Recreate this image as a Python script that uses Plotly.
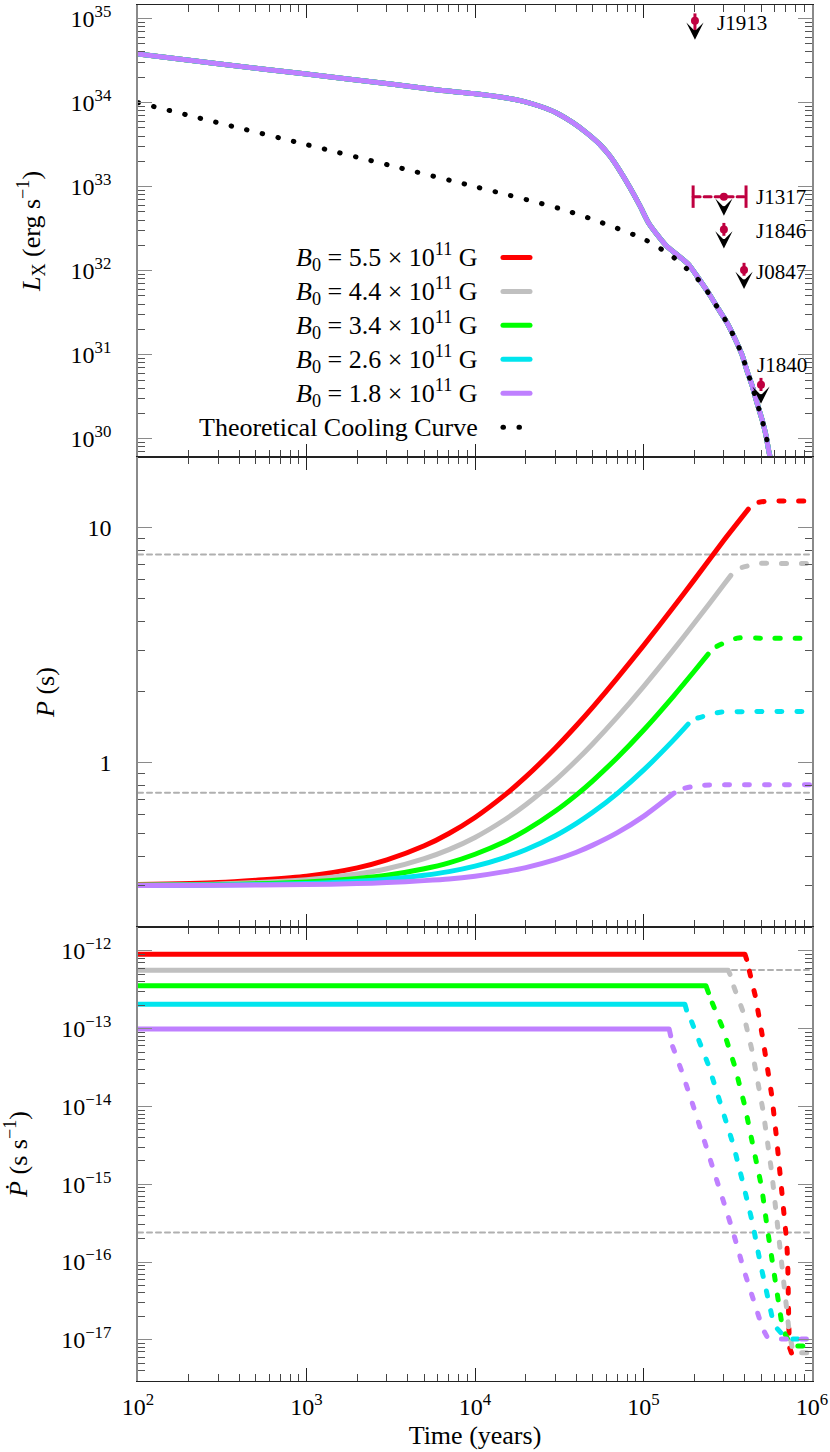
import math
import plotly.graph_objects as go
from plotly.subplots import make_subplots

# initial field strengths (x 10^11 G) and line colours
B0_VALUES = ["5.5", "4.4", "3.4", "2.6", "1.8"]
COLORS = ["#ff0000", "#c0c0c0", "#00ff00", "#00e5ee", "#bf80ff"]
CRIMSON = "#bf0040"

# ---- top panel: X-ray luminosity (the five models overlap) ----
LX_AGE = [1e2, 3.16e2, 1e3, 3.16e3, 6.19e3, 9.77e3, 1.54e4, 1.94e4, 2.43e4, 3.05e4,
          3.83e4, 4.6e4, 5.52e4, 6.32e4, 7.26e4, 8.32e4, 9.53e4, 1.07e5, 1.2e5,
          1.37e5, 1.57e5, 1.85e5, 2.14e5, 2.48e5, 2.75e5, 3.13e5, 3.49e5, 3.84e5,
          4.11e5, 4.41e5, 4.71e5, 5.05e5, 5.33e5, 5.56e5, 5.8e5]
LX_MODEL = [3.78e34, 2.85e34, 2.19e34, 1.66e34, 1.40e34, 1.28e34, 1.135e34, 1.035e34,
            9.04e33, 7.53e33, 5.73e33, 4.36e33, 3.16e33, 2.31e33, 1.53e33, 9.7e32,
            5.89e32, 3.72e32, 2.71e32, 1.97e32, 1.57e32, 1.19e32, 7.9e31, 5.1e31,
            3.63e31, 2.4e31, 1.55e31, 1.0e31, 6.5e30, 4.3e30, 2.7e30, 1.7e30,
            1.1e30, 6.9e29, 4.8e29]

COOL_AGE = [1e2, 3.16e2, 1e3, 3.16e3, 1e4, 3.16e4, 5.45e4, 1.02e5, 1.5e5, 1.81e5,
            2.14e5, 2.48e5, 2.75e5, 3.13e5, 3.49e5, 3.84e5, 4.11e5, 4.41e5, 4.71e5,
            5.05e5, 5.33e5, 5.56e5]
COOL_LX = [1.0e34, 5.6e33, 3.16e33, 1.78e33, 1.0e33, 5.5e32, 3.83e32, 2.34e32,
           1.45e32, 1.05e32, 7.6e31, 5.1e31, 3.63e31, 2.4e31, 1.55e31, 1.0e31,
           6.5e30, 4.3e30, 2.7e30, 1.7e30, 1.1e30, 6.9e29]

# observed sources (upper limits)
SRC_NAMES = ["J1913", "J1317", "J1846", "J0847", "J1840"]
SRC_AGE = [2.02e5, 3.0e5, 3.0e5, 3.95e5, 4.98e5]
SRC_AGE_LO = [2.02e5, 1.97e5, 3.0e5, 3.95e5, 4.98e5]
SRC_AGE_HI = [2.02e5, 4.06e5, 3.0e5, 3.95e5, 4.98e5]
SRC_LX = [9.4e34, 7.6e32, 3.1e32, 1.02e32, 4.4e30]
SRC_LX_UP = [2.1e34, 0.0, 0.6e32, 0.22e32, 0.9e30]
SRC_LX_DN = [2.4e34, 0.0, 0.5e32, 0.15e32, 0.7e30]

# ---- middle panel: spin period ----
P_AGE_EARLY = [1e2, 3e2, 1e3, 2e3, 3e3, 5e3, 7e3, 1e4, 1.5e4, 2e4, 3e4, 4e4, 5e4,
               7e4, 1e5]
P_AGE_TAIL = [
    [1.5e5, 2e5, 3e5, 4.19e5],
    [1.5e5, 2e5, 3e5, 3.3e5],
    [1.5e5, 2e5, 2.42e5],
    [1.5e5, 1.84e5],
    [1.52e5],
]
P_VAL = [
    [0.303, 0.309, 0.329, 0.357, 0.386, 0.443, 0.50, 0.585, 0.728, 0.87, 1.155, 1.44,
     1.725, 2.295, 3.15, 4.575, 6.0, 8.85, 12.0],
    [0.302, 0.305, 0.318, 0.336, 0.354, 0.391, 0.427, 0.481, 0.572, 0.662, 0.843,
     1.024, 1.205, 1.567, 2.11, 3.015, 3.92, 5.73, 6.27],
    [0.301, 0.303, 0.311, 0.322, 0.332, 0.354, 0.375, 0.408, 0.461, 0.515, 0.623,
     0.73, 0.838, 1.053, 1.375, 1.913, 2.45, 2.90],
    [0.3006, 0.302, 0.306, 0.313, 0.319, 0.332, 0.344, 0.363, 0.395, 0.426, 0.489,
     0.552, 0.615, 0.741, 0.93, 1.245, 1.46],
    [0.3003, 0.301, 0.303, 0.306, 0.309, 0.315, 0.320, 0.329, 0.344, 0.358, 0.387,
     0.416, 0.446, 0.504, 0.591, 0.743],
]
P_AGE_LATE = [
    [4.84e5, 5.6e5, 7e5, 1e6],
    [3.85e5, 4.9e5, 6e5, 1e6],
    [2.73e5, 3.6e5, 5e5, 1e6],
    [2.1e5, 2.85e5, 4e5, 1e6],
    [1.76e5, 2.16e5, 3e5, 1e6],
]
P_VAL_LATE = [
    [12.85, 13.0, 13.0, 13.0],
    [6.78, 7.05, 7.05, 7.05],
    [3.13, 3.39, 3.39, 3.39],
    [1.55, 1.64, 1.65, 1.65],
    [0.78, 0.80, 0.805, 0.805],
]
P_OBS = [7.7, 0.745]

# ---- bottom panel: period derivative ----
PD_AGE = [
    [1e2, 4.0e5, 4.09e5],
    [1e2, 3.18e5, 3.26e5],
    [1e2, 2.35e5, 2.43e5],
    [1e2, 1.76e5, 1.80e5],
    [1e2, 1.42e5, 1.45e5],
]
PD_VAL = [
    [9.07e-13, 9.07e-13, 7.8e-13],
    [5.65e-13, 5.65e-13, 5.0e-13],
    [3.56e-13, 3.56e-13, 2.9e-13],
    [2.07e-13, 2.07e-13, 1.74e-13],
    [9.9e-14, 9.9e-14, 8.1e-14],
]
PD_AGE_LATE = [
    [4.25e5, 4.62e5, 5.09e5, 5.33e5, 5.79e5, 6.17e5, 6.55e5, 6.76e5, 7.08e5, 7.18e5,
     7.25e5, 7.28e5, 7.35e5, 7.7e5, 8.7e5],
    [3.44e5, 3.88e5, 4.41e5, 5.14e5, 5.77e5, 6.34e5, 6.89e5, 7.33e5, 7.74e5, 1e6],
    [2.56e5, 2.94e5, 3.49e5, 4.0e5, 4.48e5, 5.03e5, 5.43e5, 5.89e5, 6.34e5, 6.70e5,
     7.57e5, 1e6],
    [1.93e5, 2.18e5, 2.43e5, 2.87e5, 3.41e5, 3.91e5, 4.45e5, 4.95e5, 5.58e5, 5.94e5,
     7.08e5, 1e6],
    [1.49e5, 1.69e5, 2.02e5, 2.41e5, 2.87e5, 3.38e5, 3.95e5, 4.66e5, 5.09e5, 5.4e5,
     6.17e5, 1e6],
]
PD_VAL_LATE = [
    [5.5e-13, 2.57e-13, 7.8e-14, 4.27e-14, 1.32e-14, 3.8e-15, 1.12e-15, 6.0e-16,
     1.82e-16, 9.8e-17, 5.4e-17, 1.62e-17, 8.0e-18, 6.0e-18, 5.9e-18],
    [3.45e-13, 1.70e-13, 5.2e-14, 8.5e-15, 1.41e-15, 2.29e-16, 3.72e-17, 1.23e-17,
     6.8e-18, 6.8e-18],
    [2.14e-13, 1.04e-13, 3.24e-14, 1.0e-14, 3.0e-15, 9.1e-16, 2.7e-16, 7.9e-17,
     2.45e-17, 1.35e-17, 8.3e-18, 8.3e-18],
    [1.23e-13, 5.9e-14, 3.4e-14, 1.07e-14, 3.24e-15, 1.0e-15, 3.1e-16, 9.3e-17,
     2.8e-17, 1.55e-17, 1.02e-17, 1.02e-17],
    [5.9e-14, 2.8e-14, 8.7e-15, 2.7e-15, 8.2e-16, 2.55e-16, 7.8e-17, 2.44e-17,
     1.40e-17, 1.1e-17, 1.02e-17, 1.02e-17],
]
PD_OBS = [5.7e-13, 2.4e-16]
AGE_SPAN = [1e2, 1e6]

FONT = "Liberation Serif"
SOLID_W = 5
DASH = "5px,15px"
REF_LINE = dict(color="#b0b0b0", width=2, dash="5px,4px")

fig = make_subplots(rows=3, cols=1, shared_xaxes=True, vertical_spacing=0,
                    row_heights=[453, 471, 455])

# reference levels (behind the models)
for v in P_OBS:
    fig.add_trace(go.Scatter(x=AGE_SPAN, y=[v, v], mode="lines", line=REF_LINE,
                             hoverinfo="skip"), row=2, col=1)
for v in PD_OBS:
    fig.add_trace(go.Scatter(x=AGE_SPAN, y=[v, v], mode="lines", line=REF_LINE,
                             hoverinfo="skip"), row=3, col=1)

for i, col in enumerate(COLORS):
    fig.add_trace(go.Scatter(x=LX_AGE, y=LX_MODEL, mode="lines",
                             line=dict(color=col, width=SOLID_W, shape="spline",
                                       smoothing=0.6)), row=1, col=1)
    fig.add_trace(go.Scatter(x=P_AGE_EARLY + P_AGE_TAIL[i], y=P_VAL[i], mode="lines",
                             line=dict(color=col, width=SOLID_W, shape="spline",
                                       smoothing=0.6)), row=2, col=1)
    fig.add_trace(go.Scatter(x=P_AGE_LATE[i], y=P_VAL_LATE[i], mode="lines",
                             line=dict(color=col, width=SOLID_W, dash=DASH,
                                       shape="spline", smoothing=0.8)), row=2, col=1)
    fig.add_trace(go.Scatter(x=PD_AGE[i], y=PD_VAL[i], mode="lines",
                             line=dict(color=col, width=SOLID_W)), row=3, col=1)
    fig.add_trace(go.Scatter(x=PD_AGE_LATE[i], y=PD_VAL_LATE[i], mode="lines",
                             line=dict(color=col, width=SOLID_W, dash=DASH)),
                  row=3, col=1)

# theoretical cooling curve (dotted)
fig.add_trace(go.Scatter(x=COOL_AGE, y=COOL_LX, mode="lines",
                         line=dict(color="black", width=5, dash="0.5px,15.5px",
                                   shape="spline", smoothing=0.8)), row=1, col=1)

# age error bars (dashed, with end caps)
for i, name in enumerate(SRC_NAMES):
    if SRC_AGE_HI[i] > SRC_AGE_LO[i]:
        fig.add_trace(go.Scatter(x=[SRC_AGE_LO[i], SRC_AGE_HI[i]],
                                 y=[SRC_LX[i], SRC_LX[i]], mode="lines+markers",
                                 line=dict(color=CRIMSON, width=3, dash="7px,4px"),
                                 marker=dict(symbol="line-ns", size=16,
                                             line=dict(color=CRIMSON, width=3))),
                      row=1, col=1)

fig.add_trace(go.Scatter(x=SRC_AGE, y=SRC_LX, mode="markers",
                         marker=dict(color=CRIMSON, size=8),
                         error_y=dict(type="data", symmetric=False, array=SRC_LX_UP,
                                      arrayminus=SRC_LX_DN, color=CRIMSON,
                                      thickness=3, width=0)), row=1, col=1)

label_shift = {"J1913": (20, -2), "J1317": (30, 0), "J1846": (30, -2),
               "J0847": (10, -2), "J1840": (-6, 20)}
for i, name in enumerate(SRC_NAMES):
    xl, yl = math.log10(SRC_AGE[i]), math.log10(SRC_LX[i])
    fig.add_annotation(x=xl, y=yl, xref="x", yref="y", text="", showarrow=True,
                       arrowhead=3, arrowsize=1.15, arrowwidth=2.5,
                       arrowcolor="black", ax=0, ay=-11, yshift=-19)
    dx, dy = label_shift[name]
    fig.add_annotation(x=xl, y=yl, xref="x", yref="y", text=name, showarrow=False,
                       xanchor="left", yanchor="middle", xshift=dx, yshift=dy,
                       font=dict(family=FONT, size=21, color="black"))

# legend drawn by hand: text on the left, sample on the right
legend_text = ["<i>B</i><sub>0</sub> = %s × 10<sup>11</sup> G" % b for b in B0_VALUES]
legend_text.append("Theoretical Cooling Curve")
legend_col = COLORS + ["black"]
for k, (txt, col) in enumerate(zip(legend_text, legend_col)):
    yd = 0.4415 - k * 0.0751
    fig.add_annotation(x=0.5074, y=yd, xref="x domain", yref="y domain", text=txt,
                       showarrow=False, xanchor="right", yanchor="middle",
                       font=dict(family=FONT, size=26, color="black"))
    dash = "0.5px,15.5px" if k == 5 else "solid"
    fig.add_shape(type="line", xref="x domain", yref="y domain",
                  x0=0.5415, x1=0.5816, y0=yd, y1=yd,
                  line=dict(color=col, width=5, dash=dash))


def minor_vals(lo, hi):
    return [d * 10.0 ** e for e in range(lo, hi) for d in range(2, 10)]


xt = [1e2, 1e3, 1e4, 1e5, 1e6]
for r in (1, 2, 3):
    fig.update_xaxes(row=r, col=1, type="log", range=[2, 6], tickmode="array",
                     tickvals=xt, ticktext=["10<sup>%d</sup>" % e for e in range(2, 7)],
                     ticks="inside", ticklen=13, tickwidth=1.2, tickcolor="#222",
                     showline=True, linecolor="#222", linewidth=1.3, mirror="ticks",
                     showgrid=False, zeroline=False, ticklabeloverflow="allow",
                     minor=dict(tickvals=minor_vals(2, 6), ticks="inside", ticklen=7,
                                tickwidth=1, tickcolor="#444", showgrid=False),
                     tickfont=dict(family=FONT, size=24, color="black"))
fig.update_xaxes(row=3, col=1, showticklabels=True, ticklabelstandoff=4,
                 title=dict(text="Time (years)", standoff=6,
                            font=dict(family=FONT, size=26, color="black")))

y_specs = [
    (1, [29.783, 35.161], [10.0 ** e for e in range(30, 36)],
     ["10<sup>%d</sup>" % e for e in range(30, 36)], minor_vals(29, 35),
     "<i>L</i><sub>X</sub> (erg s<sup>−1</sup>)", 23),
    (2, [-0.699, 1.301], [1, 10], ["1", "10"], minor_vals(-1, 2),
     "<i>P</i> (s)", 25),
    (3, [-17.53, -11.692], [10.0 ** e for e in range(-17, -11)],
     ["10<sup>−%d</sup>" % -e for e in range(-17, -11)], minor_vals(-18, -12),
     "<i>Ṗ</i> (s s<sup>−1</sup>)", 31),
]
for r, rng, tv, tt, mv, title, so in y_specs:
    fig.update_yaxes(row=r, col=1, type="log", range=rng, tickmode="array",
                     tickvals=tv, ticktext=tt, ticks="inside", ticklen=14,
                     tickwidth=1.3, tickcolor="#8a8a8a", showline=True,
                     linecolor="#8a8a8a", linewidth=1.6, mirror="ticks",
                     showgrid=False, zeroline=False, ticklabelstandoff=20,
                     ticklabeloverflow="allow",
                     minor=dict(tickvals=mv, ticks="inside", ticklen=7, tickwidth=1,
                                tickcolor="#555", showgrid=False),
                     tickfont=dict(family=FONT, size=24, color="black"),
                     title=dict(text=title, standoff=so,
                                font=dict(family=FONT, size=26, color="black")))

fig.update_layout(width=830, height=1452, margin=dict(l=138, r=18, t=2, b=71),
                  plot_bgcolor="white", paper_bgcolor="white", showlegend=False,
                  font=dict(family=FONT, size=22, color="black"))

page_fix = """
document.body.style.margin = '0';
var gd = document.getElementById('{plot_id}');
gd.querySelectorAll('path.js-line, .shapelayer path').forEach(function(p) {
  p.style.strokeLinecap = 'round';
  p.style.strokeLinejoin = 'round';
});
"""
fig.write_html("out.html", post_script=page_fix,
               config={"displayModeBar": False})
